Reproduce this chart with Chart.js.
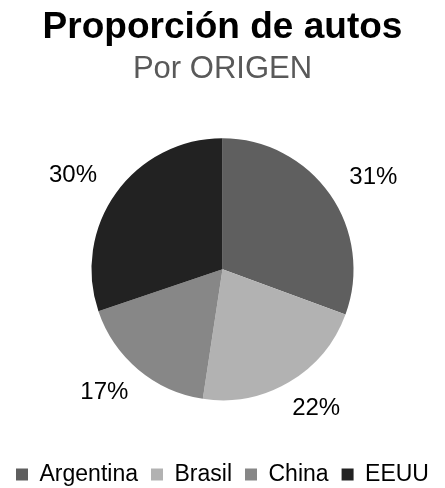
<!DOCTYPE html>
<html>
<head>
<meta charset="utf-8">
<script src="https://cdn.jsdelivr.net/npm/chart.js@4"></script>
<style>
  html, body { margin: 0; padding: 0; background: #fff; overflow: hidden; }
  #wrap { width: 445px; height: 496px; position: relative; }
</style>
</head>
<body>
<div id="wrap"><canvas id="chart"></canvas></div>
<script>
const categories = ["Argentina", "Brasil", "China", "EEUU"]
const shares = [30.6, 21.8, 17.4, 30.2]
const colors = ["#5f5f5f", "#b2b2b2", "#878787", "#222222"]

const FONT = "'Liberation Sans', Arial, sans-serif"

// percent labels outside each slice (label box sits just off the rim)
const outsideLabels = {
  id: "outsideLabels",
  afterDatasetsDraw(chart) {
    const ctx = chart.ctx
    const meta = chart.getDatasetMeta(0)
    const total = shares.reduce((a, b) => a + b, 0)
    ctx.save()
    ctx.font = "24px " + FONT
    ctx.fillStyle = "#000"
    ctx.textAlign = "center"
    ctx.textBaseline = "middle"
    meta.data.forEach((arc, i) => {
      const mid = (arc.startAngle + arc.endAngle) / 2
      const x = arc.x + Math.cos(mid) * (arc.outerRadius + 53)
      const y = arc.y + Math.sin(mid) * (arc.outerRadius + 30)
      ctx.fillText(Math.round(shares[i] / total * 100) + "%", x, y)
    })
    ctx.restore()
  }
}

new Chart(document.getElementById("chart"), {
  type: "pie",
  data: {
    labels: categories,
    datasets: [{
      data: shares,
      backgroundColor: colors,
      borderWidth: 0,
      radius: 131
    }]
  },
  options: {
    responsive: true,
    maintainAspectRatio: false,
    animation: false,
    layout: { padding: 0 },
    plugins: {
      title: {
        display: true,
        text: "Proporción de autos",
        color: "#000",
        font: { family: FONT, size: 37, weight: "bold" },
        padding: { top: 6, bottom: 0 }
      },
      subtitle: {
        display: true,
        text: "Por ORIGEN",
        color: "#595959",
        font: { family: FONT, size: 31 },
        padding: { top: 0, bottom: 1 }
      },
      legend: {
        position: "bottom",
        labels: {
          color: "#000",
          font: { family: FONT, size: 23 },
          boxWidth: 12,
          boxHeight: 12,
          padding: 13
        }
      },
      tooltip: { enabled: false }
    }
  },
  plugins: [outsideLabels]
})
</script>
</body>
</html>
